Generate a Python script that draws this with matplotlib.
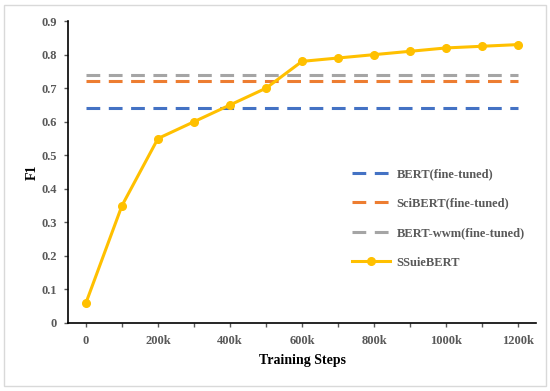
import matplotlib
matplotlib.use('Agg')
import matplotlib.pyplot as plt
from matplotlib.patches import Rectangle

# data
steps = ['0', '100k', '200k', '300k', '400k', '500k', '600k', '700k',
         '800k', '900k', '1000k', '1100k', '1200k']
bert = [0.64] * 13
scibert = [0.72] * 13
bert_wwm = [0.74] * 13
ssuiebert = [0.06, 0.35, 0.55, 0.60, 0.65, 0.70, 0.78, 0.79, 0.80,
             0.81, 0.82, 0.825, 0.83]

plt.rcParams['font.family'] = ['Liberation Serif', 'DejaVu Serif']
plt.rcParams['font.weight'] = 'bold'

fig = plt.figure(figsize=(5.5, 3.91), dpi=100)
ax = fig.add_axes([0.1236, 0.174, 0.851, 0.772])

x = list(range(len(steps)))
ax.plot(x, bert, color='#4472C4', lw=2.2, dashes=(4.5, 2.8), label='BERT(fine-tuned)')
ax.plot(x, scibert, color='#ED7D31', lw=2.2, dashes=(4.5, 2.8), label='SciBERT(fine-tuned)')
ax.plot(x, bert_wwm, color='#A5A5A5', lw=2.2, dashes=(4.5, 2.8), label='BERT-wwm(fine-tuned)')
ax.plot(x, ssuiebert, color='#FFC000', lw=2.2, marker='o', ms=5.5, label='SSuieBERT')

ax.set_xlim(-0.5, 12.5)
ax.set_ylim(0, 0.9)
ax.set_xticks(x)
ax.set_xticklabels([s if i % 2 == 0 else '' for i, s in enumerate(steps)])
ax.set_yticks([0, 0.1, 0.2, 0.3, 0.4, 0.5, 0.6, 0.7, 0.8, 0.9])
ax.set_yticklabels(['0', '0.1', '0.2', '0.3', '0.4', '0.5', '0.6', '0.7', '0.8', '0.9'])
ax.tick_params(colors='#595959', labelsize=9, length=3, width=1)
for lab in ax.get_xticklabels() + ax.get_yticklabels():
    lab.set_fontweight('bold')
ax.tick_params(axis='x', pad=6)
ax.tick_params(axis='y', pad=5)

ax.spines['top'].set_visible(False)
ax.spines['right'].set_visible(False)
ax.spines['left'].set_color('black')
ax.spines['bottom'].set_color('black')
ax.spines['left'].set_linewidth(1.2)
ax.spines['bottom'].set_linewidth(1.2)

ax.set_xlabel('Training Steps', fontsize=10, fontweight='bold', labelpad=5)
ax.set_ylabel('F1', fontsize=10, fontweight='bold', labelpad=2)

leg = ax.legend(loc='lower right', bbox_to_anchor=(1.0, 0.143), frameon=False,
                fontsize=9, handlelength=3.0, labelspacing=1.4, handletextpad=0.55)
for t in leg.get_texts():
    t.set_color('#595959')
    t.set_fontweight('bold')

fig.patches.append(Rectangle((0.008, 0.012), 0.984, 0.976, transform=fig.transFigure,
                             fill=False, edgecolor='#d9d9d9', lw=1))

fig.savefig('out.png', dpi=100)
